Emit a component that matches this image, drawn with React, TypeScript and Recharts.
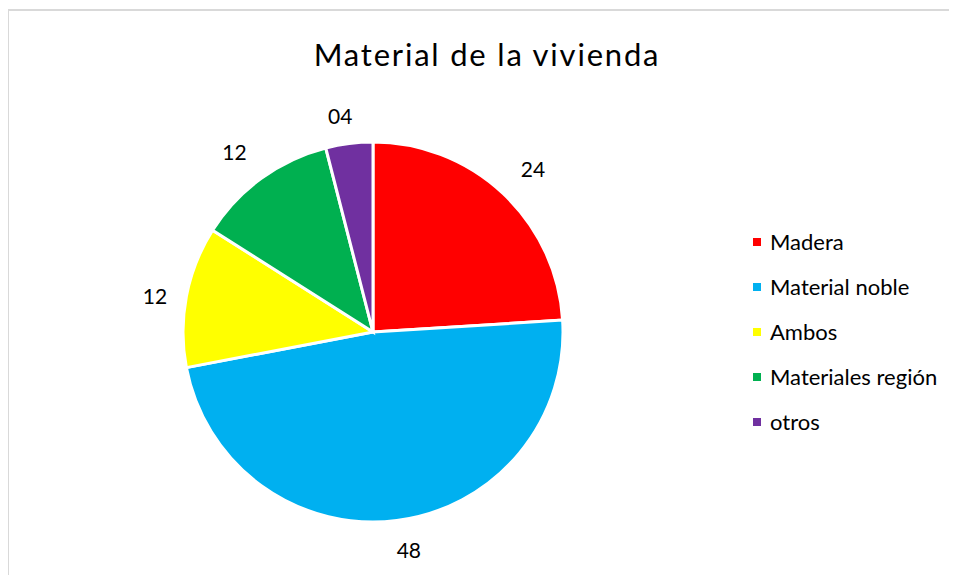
import { PieChart, Pie, Cell, Legend } from "recharts";

const categories = ["Madera", "Material noble", "Ambos", "Materiales región", "otros"];
const values = [24, 48, 12, 12, 4];
const valueLabels = ["24", "48", "12", "12", "04"];
const colors = ["#FF0000", "#00B0F0", "#FFFF00", "#00B050", "#7030A0"];

// small per-label nudges so the labels sit where Excel put them
const labelNudge = [
  [8, -2],
  [8, -3],
  [0, 5],
  [-8, -1],
  [-5, 4],
];

const data = categories.map((name, i) => ({ name, value: values[i], label: valueLabels[i] }));

const FONT = "Lato, 'Open Sans', sans-serif";
const RAD = Math.PI / 180;

const renderLabel = (props: any) => {
  const { cx, cy, midAngle, outerRadius, index } = props;
  const r = outerRadius + 32;
  const x = cx + r * Math.cos(-midAngle * RAD) + labelNudge[index][0];
  const y = cy + r * Math.sin(-midAngle * RAD) + labelNudge[index][1];
  return (
    <text x={x} y={y} textAnchor="middle" dominantBaseline="central" fill="#000" fontSize={21} fontFamily={FONT}>
      {valueLabels[index]}
    </text>
  );
};

const renderLegend = () => (
  <div style={{ fontFamily: FONT, fontSize: 22, color: "#000" }}>
    {categories.map((c, i) => (
      <div key={c} style={{ display: "flex", alignItems: "center", height: 45 }}>
        <span style={{ width: 8, height: 8, background: colors[i], marginRight: 9, display: "inline-block" }} />
        <span>{c}</span>
      </div>
    ))}
  </div>
);

export default function App() {
  return (
    <div
      style={{
        position: "relative",
        width: 942,
        height: 566,
        marginTop: 1,
        marginLeft: -1,
        overflow: "hidden",
        background: "#fff",
      }}
    >
      {/* chart frame: only its top and left edges fall inside the picture */}
      <div style={{ position: "absolute", left: 0, top: 0, width: 942, height: 2, background: "#d9d9d9" }} />
      <div style={{ position: "absolute", left: 0, top: 0, width: 2, height: 566, background: "#d9d9d9" }} />
      <div
        style={{
          position: "absolute",
          left: 0,
          width: 960,
          maxWidth: "none",
          top: 25,
          textAlign: "center",
          fontFamily: FONT,
          fontSize: 31,
          letterSpacing: 1.8,
          color: "#000",
          lineHeight: "40px",
        }}
      >
        Material de la vivienda
      </div>
      <div style={{ position: "absolute", left: 2, top: 2 }}>
        <PieChart width={940} height={564}>
          <Pie
            data={data}
            dataKey="value"
            nameKey="name"
            cx={359}
            cy={316}
            outerRadius={190}
            startAngle={90}
            endAngle={-270}
            stroke="#fff"
            strokeWidth={3}
            label={renderLabel}
            labelLine={false}
            isAnimationActive={false}
          >
            {data.map((d, i) => (
              <Cell key={d.name} fill={colors[i]} />
            ))}
          </Pie>
          <Legend content={renderLegend} layout="vertical" wrapperStyle={{ left: 744, top: 208, width: 190 }} />
        </PieChart>
      </div>
    </div>
  );
}
